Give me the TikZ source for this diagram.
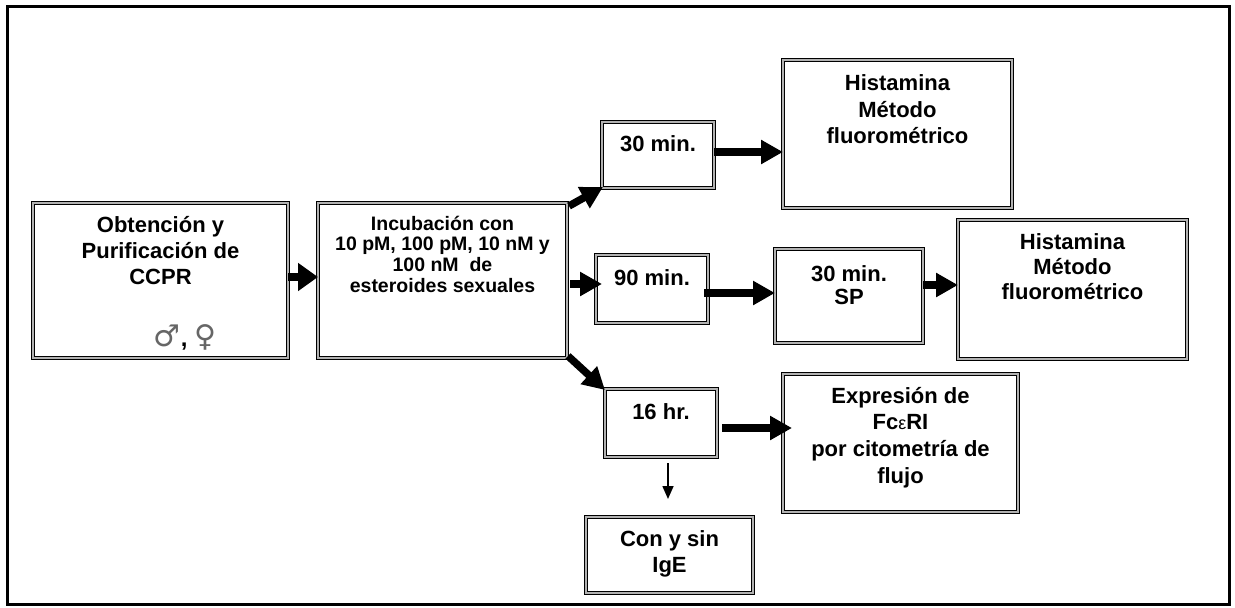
\documentclass[tikz,border=0pt]{standalone}
\usepackage{fontspec}
\setmainfont{Liberation Sans}
\newfontfamily\symfont{DejaVu Sans}
\usetikzlibrary{arrows.meta}
\tikzset{
  box/.style={draw=black, line width=1.4pt, double=gray!60, double distance=1.2pt,
    inner sep=0pt, outer sep=0pt, anchor=north west},
  txt/.style={inner sep=0pt, outer sep=0pt, align=center, anchor=north},
  bigarrow/.style={line width=7.5pt, -{Triangle[length=22pt,width=23pt]}},
  widearrow/.style={line width=7.5pt, -{Triangle[length=20pt,width=27pt]}},
  thinarrow/.style={line width=1.6pt, -{Triangle[length=13pt,width=11pt]}},
}
\newcommand\fs[2]{\fontsize{#1}{#2}\selectfont\bfseries}
\begin{document}
\begin{tikzpicture}[x=1pt,y=-1pt]
\useasboundingbox (0,0) rectangle (1235,608);
\fill[white] (0,0) rectangle (1235,608);
\draw[line width=3pt] (7,6) rectangle (1229,604);
% boxes
\node[box, minimum width=255pt, minimum height=155pt] (A) at (33,203) {};
\node[box, minimum width=249pt, minimum height=155pt] (B) at (318,203) {};
\node[box, minimum width=112pt, minimum height=66pt] (T30) at (602,122) {};
\node[box, minimum width=229pt, minimum height=148pt] (H1) at (783,60) {};
\node[box, minimum width=112pt, minimum height=68pt] (T90) at (596,255) {};
\node[box, minimum width=148pt, minimum height=94pt] (SP) at (775,249) {};
\node[box, minimum width=229pt, minimum height=139pt] (H2) at (958,220) {};
\node[box, minimum width=112pt, minimum height=68pt] (T16) at (605,389) {};
\node[box, minimum width=235pt, minimum height=138pt] (EX) at (783,374) {};
\node[box, minimum width=167pt, minimum height=76pt] (CI) at (586,517) {};
% texts
\node[txt, font=\fs{22}{26}] (At) at (160.5,215.9) {Obtención y\\Purificación de\\CCPR};
\node[inner sep=0pt, anchor=base, text=black!60] (Asym) at (185,346) {\symfont\fontsize{30}{32}\selectfont ♂{\fontsize{24}{26}\selectfont\bfseries\rmfamily\color{black}, }♀};
\node[txt, font=\fs{19.5}{20.7}] (Bt) at (442.5,215.8) {Incubación con\\10 pM, 100 pM, 10 nM y\\100 nM\ \ de\\esteroides sexuales};
\node[txt, font=\fs{22}{25}] (T30t) at (658,135.9) {30 min.};
\node[txt, font=\fs{22}{26.5}] (H1t) at (897.5,74.9) {Histamina\\Método\\fluorométrico};
\node[txt, font=\fs{22}{25}] (T90t) at (652,269.9) {90 min.};
\node[txt, font=\fs{22}{23}] (SPt) at (849,265.9) {30 min.\\SP};
\node[txt, font=\fs{22}{25}] (H2t) at (1072.5,233.9) {Histamina\\Método\\fluorométrico};
\node[txt, font=\fs{22}{25}] (T16t) at (661,403.4) {16 hr.};
\node[txt, font=\fs{22}{26.7}] (EXt) at (900.5,386.9) {Expresión de\\Fc{\mdseries\fontsize{18}{20}\selectfont ε}RI\\por citometría de\\flujo};
\node[txt, font=\fs{22}{26}] (CIt) at (669.5,530.9) {Con y sin\\IgE};
% helper coordinates for arrow heights
\coordinate (y277) at (0,277);
\coordinate (y284) at (0,284);
\coordinate (y152) at (0,152);
\coordinate (y293) at (0,293);
\coordinate (y285) at (0,285);
\coordinate (y428) at (0,428);
\coordinate (x668) at (668,0);
% arrows
\draw[widearrow] (A.east |- y277) -- (B.west |- y277);
\draw[bigarrow] ([xshift=3pt]B.east |- y284) -- ([xshift=6pt]T90.west |- y284);
\draw[bigarrow] ([shift={(2,3)}]B.north east) -- ([shift={(1,-1)}]T30.south west);
\draw[bigarrow] ([shift={(1,-2)}]B.south east) -- ([shift={(0,1)}]T16.north west);
\draw[bigarrow] (T30.east |- y152) -- (H1.west |- y152);
\draw[bigarrow] ([xshift=-4pt]T90.east |- y293) -- (SP.west |- y293);
\draw[bigarrow] (SP.east |- y285) -- (H2.west |- y285);
\draw[bigarrow] ([xshift=5pt]T16.east |- y428) -- ([xshift=9pt]EX.west |- y428);
\draw[thinarrow] ([yshift=-6pt]T16.south -| x668) -- ([yshift=18pt]CI.north -| x668);
\end{tikzpicture}
\end{document}
